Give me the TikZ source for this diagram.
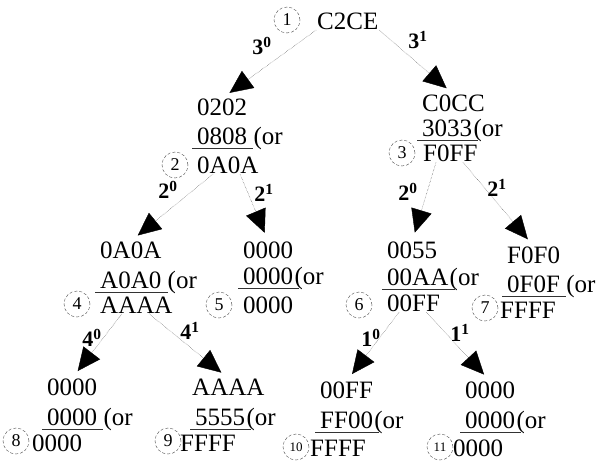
\documentclass[tikz,border=0pt]{standalone}
\usepackage{fontspec}
\setmainfont{Liberation Serif}
\newfontfamily\scanfont{Liberation Serif}
\usetikzlibrary{positioning,arrows.meta,calc}
\tikzset{
  hx/.style={inner sep=0pt,anchor=base west,font=\scanfont\fontsize{25}{25}\selectfont},
  tag/.style={circle,draw=black!75,densely dashed,thin,minimum size=26pt,inner sep=0pt,
    font=\scanfont\fontsize{18}{18}\selectfont},
  tagsm/.style={tag,font=\scanfont\fontsize{13}{13}\selectfont},
  bit/.style={inner sep=0pt,font=\scanfont\bfseries\fontsize{22}{22}\selectfont},
  edge/.style={-{Triangle[length=23pt,width=21pt,color=black]},densely dotted,black!80,thin,
    shorten <=1pt,shorten >=9pt},
  bar/.style={black!80,line width=0.8pt},
}
\begin{document}
\begin{tikzpicture}[x=1pt,y=-1pt]
  \useasboundingbox (0,0) rectangle (607,461);
  \node[tag] (t1) at (287,20) {1};
  \node[hx] (root) at (317,29) {C2CE};
  % second level
  \node[hx] (b2a) at (197,115) {0202};
  \node[hx] (b2b) at (197,144) {0808};
  \node[hx,right=6pt of b2b.base east,anchor=base west] (b2o) {(or};
  \node[hx] (b2c) at (197,173) {0A0A};
  \node[tag] (t2) at (175,165) {2};
  \node[hx] (b3a) at (422,111) {C0CC};
  \node[hx] (b3b) at (422,136) {3033};
  \node[hx,right=1pt of b3b.base east,anchor=base west] (b3o) {(or};
  \node[hx] (b3c) at (423,161) {F0FF};
  \node[tag] (t3) at (402,153) {3};
  % third level
  \node[hx] (b4a) at (100,258) {0A0A};
  \node[hx] (b4b) at (100,288) {A0A0};
  \node[hx,right=6pt of b4b.base east,anchor=base west] (b4o) {(or};
  \node[hx] (b4c) at (100,313) {AAAA};
  \node[tag] (t4) at (77,304) {4};
  \node[hx] (b5a) at (243,258) {0000};
  \node[hx] (b5b) at (243,284) {0000};
  \node[hx,right=1pt of b5b.base east,anchor=base west] (b5o) {(or};
  \node[hx] (b5c) at (243,313) {0000};
  \node[tag] (t5) at (219,305) {5};
  \node[hx] (b6a) at (387,258) {0055};
  \node[hx] (b6b) at (387,285) {00AA};
  \node[hx,right=1pt of b6b.base east,anchor=base west] (b6o) {(or};
  \node[hx] (b6c) at (387,311) {00FF};
  \node[tag] (t6) at (359,305) {6};
  \node[hx] (b7a) at (507,263) {F0F0};
  \node[hx] (b7b) at (507,292) {0F0F};
  \node[hx,right=6pt of b7b.base east,anchor=base west] (b7o) {(or};
  \node[hx] (b7c) at (500,318) {FFFF};
  \node[tag] (t7) at (485,308) {7};
  % leaves
  \node[hx] (b8a) at (47,395) {0000};
  \node[hx] (b8b) at (47,425) {0000};
  \node[hx,right=6pt of b8b.base east,anchor=base west] (b8o) {(or};
  \node[hx] (b8c) at (32,451) {0000};
  \node[tag] (t8) at (16,441) {8};
  \node[hx] (b9a) at (192,395) {AAAA};
  \node[hx] (b9b) at (195,425) {5555};
  \node[hx,right=1pt of b9b.base east,anchor=base west] (b9o) {(or};
  \node[hx] (b9c) at (180,451) {FFFF};
  \node[tag] (t9) at (168,441) {9};
  \node[hx] (b10a) at (320,398) {00FF};
  \node[hx] (b10b) at (320,428) {FF00};
  \node[hx,right=1pt of b10b.base east,anchor=base west] (b10o) {(or};
  \node[hx] (b10c) at (310,456) {FFFF};
  \node[tagsm] (t10) at (296,447) {10};
  \node[hx] (b11a) at (465,398) {0000};
  \node[hx] (b11b) at (465,428) {0000};
  \node[hx,right=1pt of b11b.base east,anchor=base west] (b11o) {(or};
  \node[hx] (b11c) at (453,456) {0000};
  \node[tagsm] (t11) at (440,447) {11};
  % underlines
  \foreach \b in {b2b,b3b,b4b,b5b,b6b,b7b,b8b,b9b,b10b,b11b}
    \draw[bar] ([shift={(-5,4)}]\b.base west) -- ([shift={(6,4)}]\b.base east);
  % connectors
  \draw[edge] (root.south west) -- (b2a.north);
  \draw[edge] (root.south east) -- (b3a.north);
  \draw[edge] ([xshift=-14pt]b2c.south) -- (b4a.north);
  \draw[edge] ([xshift=12pt]b2c.south) -- (b5a.north);
  \draw[edge] ([xshift=-14pt]b3c.south) -- (b6a.north);
  \draw[edge] ([xshift=12pt]b3c.south) -- (b7a.north);
  \draw[edge] ([xshift=-14pt]b4c.south) -- (b8a.north);
  \draw[edge] ([xshift=12pt]b4c.south) -- (b9a.north);
  \draw[edge] ([xshift=-14pt]b6c.south) -- (b10a.north);
  \draw[edge] ([xshift=12pt]b6c.south) -- (b11a.north);
  \node[bit] (l30) at (262,46) {3\textsuperscript{0}};
  \node[bit] (l31) at (418,40) {3\textsuperscript{1}};
  \node[bit] (l20a) at (168,190) {2\textsuperscript{0}};
  \node[bit] (l21a) at (264,193) {2\textsuperscript{1}};
  \node[bit] (l20b) at (408,192) {2\textsuperscript{0}};
  \node[bit] (l21b) at (497,188) {2\textsuperscript{1}};
  \node[bit] (l40) at (92,338) {4\textsuperscript{0}};
  \node[bit] (l41) at (190,331) {4\textsuperscript{1}};
  \node[bit] (l10) at (371,338) {1\textsuperscript{0}};
  \node[bit] (l11) at (460,333) {1\textsuperscript{1}};
\end{tikzpicture}
\end{document}
